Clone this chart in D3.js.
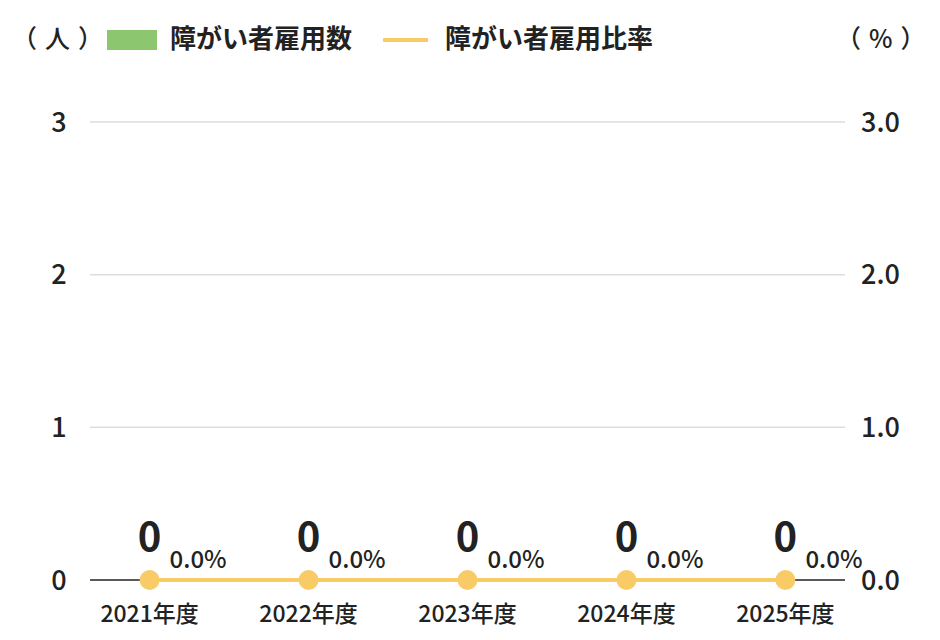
<!DOCTYPE html>
<html>
<head>
<meta charset="utf-8">
<script src="https://cdn.jsdelivr.net/npm/d3@7"></script>
<style>
  body { margin: 0; background: #fff; }
  text { font-family: "Noto Sans CJK JP", "Noto Sans", sans-serif; fill: #222; }
</style>
</head>
<body>
<div id="chart"></div>
<script>
const years = ["2021年度", "2022年度", "2023年度", "2024年度", "2025年度"];
const counts = [0, 0, 0, 0, 0];
const ratios = [0.0, 0.0, 0.0, 0.0, 0.0];
const leftTicks = [0, 1, 2, 3];
const rightTicks = [0, 1, 2, 3];

const width = 940, height = 640;
const plotLeft = 90, plotRight = 845, plotTop = 122, plotBottom = 580;

const svg = d3.select("#chart").append("svg")
    .attr("width", width)
    .attr("height", height);

const x = d3.scalePoint()
    .domain(years)
    .range([plotLeft, plotRight])
    .padding(0.375);

const yL = d3.scaleLinear().domain([0, 3]).range([plotBottom, plotTop]);
const yR = d3.scaleLinear().domain([0, 3]).range([plotBottom, plotTop]);

// grid
svg.append("g")
    .selectAll("line")
    .data(leftTicks.filter(d => d > 0))
    .join("line")
    .attr("x1", plotLeft)
    .attr("x2", plotRight)
    .attr("y1", d => yL(d))
    .attr("y2", d => yL(d))
    .attr("stroke", "#dddddd")
    .attr("stroke-width", 1.5);

// left axis labels
svg.append("g")
    .selectAll("text")
    .data(leftTicks)
    .join("text")
    .attr("x", 59)
    .attr("y", d => yL(d))
    .attr("dy", "0.36em")
    .attr("text-anchor", "middle")
    .attr("font-size", 27)
    .attr("font-weight", 500)
    .text(d => d);

// right axis labels
svg.append("g")
    .selectAll("text")
    .data(rightTicks)
    .join("text")
    .attr("x", 861)
    .attr("y", d => yR(d))
    .attr("dy", "0.36em")
    .attr("text-anchor", "start")
    .attr("font-size", 27)
    .attr("font-weight", 500)
    .text(d => d3.format(".1f")(d));

// bars (count)
const barW = 60;
svg.append("g")
    .selectAll("rect")
    .data(counts)
    .join("rect")
    .attr("x", (d, i) => x(years[i]) - barW / 2)
    .attr("y", d => yL(d))
    .attr("width", barW)
    .attr("height", d => plotBottom - yL(d))
    .attr("fill", "#8cc66e");

// baseline
svg.append("line")
    .attr("x1", plotLeft)
    .attr("x2", plotRight)
    .attr("y1", plotBottom)
    .attr("y2", plotBottom)
    .attr("stroke", "#222")
    .attr("stroke-width", 1.5);

// x labels
svg.append("g")
    .selectAll("text")
    .data(years)
    .join("text")
    .attr("x", d => x(d))
    .attr("y", 622)
    .attr("text-anchor", "middle")
    .attr("font-size", 23)
    .attr("font-weight", 500)
    .text(d => d);

// ratio line
const line = d3.line()
    .x((d, i) => x(years[i]))
    .y(d => yR(d));

svg.append("path")
    .datum(ratios)
    .attr("d", line)
    .attr("fill", "none")
    .attr("stroke", "#f9cb66")
    .attr("stroke-width", 4);

svg.append("g")
    .selectAll("circle")
    .data(ratios)
    .join("circle")
    .attr("cx", (d, i) => x(years[i]))
    .attr("cy", d => yR(d))
    .attr("r", 10)
    .attr("fill", "#f9cb66");

// count labels
svg.append("g")
    .selectAll("text")
    .data(counts)
    .join("text")
    .attr("x", (d, i) => x(years[i]))
    .attr("y", d => yL(d) - 29)
    .attr("text-anchor", "middle")
    .attr("font-size", 40)
    .attr("font-weight", 700)
    .text(d => d);

// ratio labels
svg.append("g")
    .selectAll("text")
    .data(ratios)
    .join("text")
    .attr("x", (d, i) => x(years[i]) + 20)
    .attr("y", d => yR(d) - 12)
    .attr("text-anchor", "start")
    .attr("font-size", 24)
    .attr("font-weight", 500)
    .text(d => d3.format(".1f")(d) + "%");

// legend
const legend = svg.append("g");
legend.append("text")
    .attr("x", 12).attr("y", 48)
    .attr("font-size", 25).attr("font-weight", 500)
    .attr("letter-spacing", 8)
    .text("（人）");
legend.append("rect")
    .attr("x", 107).attr("y", 30)
    .attr("width", 50).attr("height", 20)
    .attr("fill", "#8cc66e");
legend.append("text")
    .attr("x", 170).attr("y", 48)
    .attr("font-size", 26).attr("font-weight", 700)
    .text("障がい者雇用数");
legend.append("line")
    .attr("x1", 383).attr("x2", 428)
    .attr("y1", 40).attr("y2", 40)
    .attr("stroke", "#f9cb66").attr("stroke-width", 4);
legend.append("text")
    .attr("x", 445).attr("y", 48)
    .attr("font-size", 26).attr("font-weight", 700)
    .text("障がい者雇用比率");
legend.append("text")
    .attr("x", 836).attr("y", 48)
    .attr("font-size", 25).attr("font-weight", 500)
    .attr("letter-spacing", 8)
    .text("（%）");
</script>
</body>
</html>
